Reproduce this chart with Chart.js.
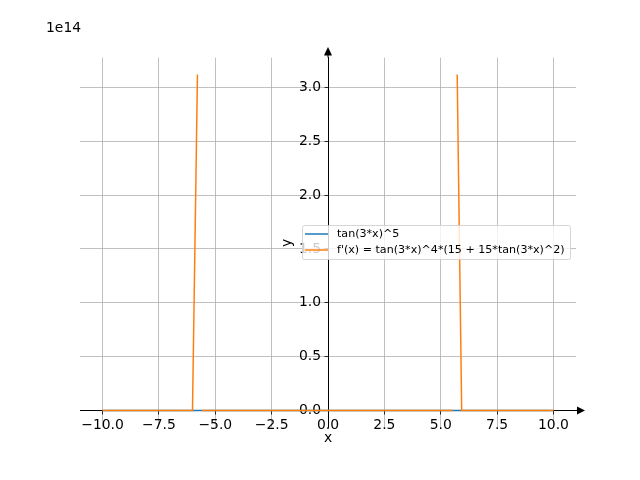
<!DOCTYPE html>
<html>
<head>
<meta charset="utf-8">
<script src="https://cdn.jsdelivr.net/npm/chart.js@4.4.1/dist/chart.umd.min.js"></script>
<style>
  html, body { margin: 0; padding: 0; background: #fff; }
  #wrap { width: 640px; height: 480px; }
</style>
</head>
<body>
<div id="wrap"><canvas id="plot" width="640" height="480"></canvas></div>
<script>
// values
const blueX = [-10, -5, 0, 5, 10];
const blueY = [0, 0, 0, 0, 0];

const orangeX = [-10, -8, -6.01, -5.79, -5.69, -5.59, -4, -2, 0, 2, 4, 5.53, 5.63, 5.73, 5.93, 8, 10];
const orangeY = [0, 0, 0, 3.12e14, null, 0, 0, 0, 0, 0, 0, 0, null, 3.12e14, 0, 0, 0];

const xTicks = [-10, -7.5, -5, -2.5, 0, 2.5, 5, 7.5, 10];
const yTicks = [0, 0.5e14, 1e14, 1.5e14, 2e14, 2.5e14, 3e14];

const seriesNames = ["tan(3*x)^5", "f'(x) = tan(3*x)^4*(15 + 15*tan(3*x)^2)"];
const seriesColors = ["#1f77b4", "#ff7f0e"];

const FONT = "'DejaVu Sans', sans-serif";

function pts(xs, ys){
  return xs.map((x, i) => ({ x: x, y: ys[i] }));
}

function fmt(v){
  const s = v.toFixed(1);
  return s.replace("-", "\u2212");
}

// matplotlib-like extras: arrows, axis labels, offset text, legend
const extras = {
  id: "extras",
  afterDraw(chart){
    const ctx = chart.ctx;
    const a = chart.chartArea;
    const x0 = chart.scales.x.getPixelForValue(0);
    const y0 = chart.scales.y.getPixelForValue(0);
    ctx.save();
    ctx.fillStyle = "#000";
    // x arrow
    ctx.beginPath();
    ctx.moveTo(585, y0);
    ctx.lineTo(577, y0 - 4);
    ctx.lineTo(577, y0 + 4);
    ctx.closePath();
    ctx.fill();
    ctx.fillRect(a.right, y0 - 0.5, 577 - a.right, 1);
    // y arrow
    ctx.beginPath();
    ctx.moveTo(x0, 47);
    ctx.lineTo(x0 - 4, 55.5);
    ctx.lineTo(x0 + 4, 55.5);
    ctx.closePath();
    ctx.fill();
    ctx.fillRect(x0 - 0.5, 55, 1, a.top - 55);

    // axis labels
    ctx.font = "13.9px " + FONT;
    ctx.textAlign = "center";
    ctx.textBaseline = "middle";
    ctx.fillText("x", x0, 438);
    ctx.save();
    ctx.translate(287, 243);
    ctx.rotate(-Math.PI / 2);
    ctx.fillText("y", 0, 0);
    ctx.restore();

    // offset text
    ctx.textAlign = "left";
    ctx.fillText("1e14", 46, 28);

    // legend
    const lx = 302, ly = 225, lw = 268, lh = 34;
    ctx.fillStyle = "rgba(255,255,255,0.8)";
    ctx.strokeStyle = "rgba(204,204,204,0.8)";
    ctx.lineWidth = 1;
    ctx.beginPath();
    ctx.roundRect(lx + 0.5, ly + 0.5, lw, lh, 2);
    ctx.fill();
    ctx.stroke();
    ctx.font = "11.1px " + FONT;
    ctx.textAlign = "left";
    ctx.textBaseline = "middle";
    const rows = [234, 250];
    chart.data.datasets.forEach((ds, i) => {
      ctx.strokeStyle = ds.borderColor;
      ctx.lineWidth = 1.5;
      ctx.beginPath();
      ctx.moveTo(305, rows[i]);
      ctx.lineTo(328, rows[i]);
      ctx.stroke();
      ctx.fillStyle = "#000";
      ctx.fillText(ds.label, 337, rows[i]);
    });
    ctx.restore();
  }
};

new Chart(document.getElementById("plot"), {
  type: "scatter",
  data: {
    datasets: [
      { label: seriesNames[0], data: pts(blueX, blueY), borderColor: seriesColors[0], order: 1,
        showLine: true, pointRadius: 0, borderWidth: 1.5, spanGaps: false },
      { label: seriesNames[1], data: pts(orangeX, orangeY), borderColor: seriesColors[1], order: 0,
        showLine: true, pointRadius: 0, borderWidth: 1.5, spanGaps: false }
    ]
  },
  options: {
    responsive: false,
    animation: false,
    color: "#000",
    layout: { padding: { left: 80, right: 64, top: 57.6, bottom: 52.8 } },
    plugins: { legend: { display: false }, tooltip: { enabled: false } },
    scales: {
      x: {
        type: "linear",
        min: -11, max: 11,
        position: { y: 0 },
        afterFit: s => { s.height = 0; },
        afterBuildTicks: s => { s.ticks = xTicks.map(v => ({ value: v })); },
        grid: { color: "#b0b0b0", lineWidth: 0.8, tickColor: "#000", tickLength: 3.5, tickWidth: 0.8 },
        border: { display: true, color: "#000", width: 1 },
        ticks: { color: "#000", font: { family: FONT, size: 13.9 }, padding: 3.5,
                 autoSkip: false, maxRotation: 0, callback: v => fmt(v) }
      },
      y: {
        type: "linear",
        min: -0.156e14, max: 3.277e14,
        position: { x: 0 },
        afterFit: s => { s.width = 0; },
        afterBuildTicks: s => { s.ticks = yTicks.map(v => ({ value: v })); },
        grid: { color: "#b0b0b0", lineWidth: 0.8, tickColor: "#000", tickLength: 3.5, tickWidth: 0.8 },
        border: { display: true, color: "#000", width: 1 },
        // labels sit flush on a centred axis, so pad them with an en space
        ticks: { color: "#000", font: { family: FONT, size: 13.9 }, padding: 3.5,
                 autoSkip: false, callback: v => fmt(v / 1e14) + "\u2002" }
      }
    }
  },
  plugins: [extras]
});
</script>
</body>
</html>
